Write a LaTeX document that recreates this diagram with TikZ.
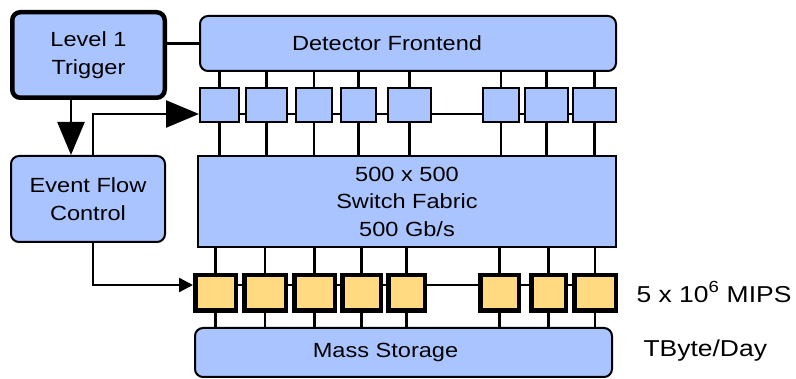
\documentclass[tikz,border=0pt]{standalone}
\usepackage{fontspec}
\setmainfont{Liberation Sans}[FakeStretch=1.15]
\usetikzlibrary{arrows.meta}
\definecolor{boxblue}{RGB}{170,196,255}
\definecolor{cpuyellow}{RGB}{255,218,128}
\tikzset{
  blk/.style={draw, fill=boxblue, line width=2pt, rounded corners=8pt, align=center, inner sep=0pt},
  buf/.style={draw, fill=boxblue, line width=2pt, inner sep=0pt},
  cpu/.style={draw, fill=cpuyellow, line width=4.5pt, inner sep=0pt},
  wire/.style={line width=2.4pt},
  bigarrow/.style={wire, -{Triangle[length=33pt,width=27pt]}},
  smallarrow/.style={wire, -{Triangle[length=14pt,width=14pt]}}
}
\begin{document}
\begin{tikzpicture}[x=1pt, y=-1pt, font=\fontsize{20.5}{27.5}\selectfont]
            \useasboundingbox (0,0) rectangle (796,379);
            \node[blk, line width=4.5pt, minimum width=152.5pt, minimum height=85.5pt] (l1t) at (88.5,55) {Level 1\\Trigger};
            \node[blk, minimum width=416pt, minimum height=55pt] (dfe) at (408,43.5) {Detector Frontend\hspace*{42pt}};
            \node[blk, minimum width=154pt, minimum height=86pt] (efc) at (88,199) {Event Flow\\Control};
            \node[blk, rounded corners=0pt, minimum width=418pt, minimum height=91pt] (sw) at (407,201.5) {500 x 500\\Switch Fabric\\500 Gb/s};
            \node[blk, minimum width=417pt, minimum height=49pt] (ms) at (403.5,352.5) {Mass Storage\hspace*{36pt}};
            \node[anchor=west, font=\fontsize{23}{27.5}\selectfont] (mips) at (633,292) {5 x 10\textsuperscript{6} MIPS};
            \node[anchor=west, font=\fontsize{23}{27.5}\selectfont] (rate) at (640,351) {TByte/Day};
            % readout buffers
            \foreach \n/\c/\w in {1/219.5/41, 2/266.5/43, 3/314/38, 4/358.5/37, 5/409.5/45, 6/501/38, 7/546.5/45, 8/594.5/45} {
                    \node[buf, minimum width=\w pt - 2pt, minimum height=34pt] (t\n) at (\c,105) {};
                    \draw[wire] (dfe.south -| t\n) -- (t\n.north);
                    \draw[wire] (t\n.south) -- (sw.north -| t\n);
                }
            % processors
            \foreach \n/\c/\w in {1/215.5/45, 2/265/46, 3/314.5/45, 4/361.5/43, 5/406.5/41, 6/499.5/43, 7/548.5/39, 8/595/46} {
                    \node[cpu, minimum width=\w pt - 4.5pt, minimum height=35.5pt] (b\n) at (\c,293) {};
                    \draw[wire] (sw.south -| b\n) -- (b\n.north);
                    \draw[wire] (b\n.south) -- (ms.north -| b\n);
                }
            \foreach \i/\j in {1/2, 2/3, 3/4, 4/5, 5/6, 6/7, 7/8} {
                    \draw[wire] ([yshift=-9pt]t\i.east) -- ([yshift=-9pt]t\j.west);
                    \draw[wire] ([yshift=8pt]b\i.east) -- ([yshift=8pt]b\j.west);
                }
            \draw[wire] (l1t.east |- dfe.west) -- (dfe.west);
            \draw[bigarrow] ([xshift=-17.5pt]l1t.south) -- ([xshift=-17pt]efc.north);
            \draw[bigarrow] ([xshift=5pt]efc.north) |- ([yshift=-9pt]t1.west);
            \draw[smallarrow] ([xshift=5pt]efc.south) |- ([yshift=8pt]b1.west);
        \end{tikzpicture}
\end{document}
